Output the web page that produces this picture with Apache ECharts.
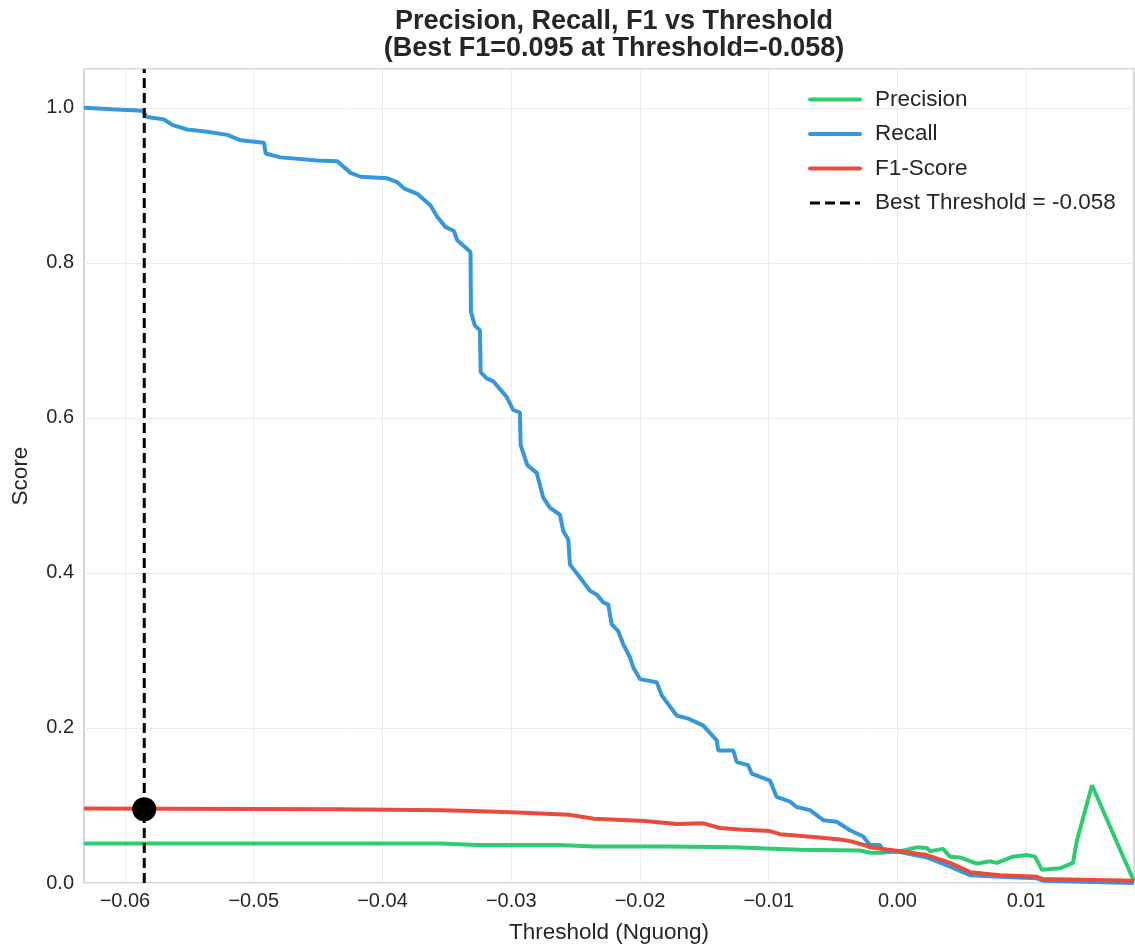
<!DOCTYPE html>
<html>
<head>
<meta charset="utf-8">
<title>Precision, Recall, F1 vs Threshold</title>
<script src="https://cdn.jsdelivr.net/npm/echarts@6/dist/echarts.min.js"></script>
<style>
  html, body { margin: 0; padding: 0; background: #fff; }
  #chart { width: 1135px; height: 946px; }
</style>
</head>
<body>
<div id="chart"></div>
<script>
// 数据：近似值
var recallX = [-0.06318, -0.06101, -0.05866, -0.05827, -0.05697, -0.05633, -0.05516, -0.05361, -0.05205, -0.05101,
  -0.04920, -0.04907, -0.04791, -0.04506, -0.04351, -0.04247, -0.04169, -0.03963, -0.03885, -0.03833,
  -0.03730, -0.03626, -0.03574, -0.03509, -0.03445, -0.03419, -0.03316, -0.03313, -0.03282, -0.03243,
  -0.03237, -0.03191, -0.03139, -0.03035, -0.02984, -0.02932, -0.02927, -0.02875, -0.02802, -0.02751,
  -0.02699, -0.02621, -0.02596, -0.02557, -0.02544, -0.02466, -0.02388, -0.02336, -0.02285, -0.02246,
  -0.02220, -0.02169, -0.02130, -0.02078, -0.02052, -0.02000, -0.01870, -0.01831, -0.01715, -0.01625,
  -0.01508, -0.01404, -0.01392, -0.01275, -0.01249, -0.01159, -0.01132, -0.00990, -0.00938, -0.00835,
  -0.00783, -0.00680, -0.00576, -0.00472, -0.00369, -0.00266, -0.00214, -0.00136, -0.00110, 0.00019,
  0.00229, 0.00408, 0.00563, 0.00796, 0.01084, 0.01130, 0.01837];
var recallY = [1.000, 0.998, 0.996, 0.988, 0.985, 0.978, 0.972, 0.969, 0.965, 0.958,
  0.955, 0.941, 0.936, 0.932, 0.931, 0.916, 0.911, 0.909, 0.904, 0.896,
  0.889, 0.874, 0.859, 0.846, 0.841, 0.829, 0.814, 0.737, 0.719, 0.713,
  0.659, 0.651, 0.647, 0.627, 0.610, 0.607, 0.565, 0.539, 0.529, 0.497,
  0.484, 0.475, 0.454, 0.443, 0.411, 0.394, 0.377, 0.372, 0.362, 0.359,
  0.334, 0.325, 0.308, 0.291, 0.278, 0.263, 0.259, 0.242, 0.216, 0.212,
  0.203, 0.184, 0.171, 0.171, 0.156, 0.152, 0.141, 0.132, 0.111, 0.105,
  0.098, 0.094, 0.081, 0.079, 0.068, 0.060, 0.049, 0.049, 0.042, 0.040,
  0.033, 0.021, 0.010, 0.008, 0.006, 0.003, 0.000];

var precX = [-0.06318, -0.03546, -0.03266, -0.02637, -0.02357, -0.01793, -0.01275, -0.00757, -0.00291, -0.00214,
  -0.00136, 0.00019, 0.00151, 0.00229, 0.00252, 0.00353, 0.00408, 0.00485, 0.00617, 0.00718,
  0.00773, 0.00897, 0.01006, 0.01068, 0.01122, 0.01262, 0.01363, 0.01394, 0.01511, 0.01837];
var precY = [0.051, 0.051, 0.049, 0.049, 0.047, 0.047, 0.046, 0.043, 0.042, 0.039,
  0.039, 0.041, 0.046, 0.045, 0.041, 0.044, 0.034, 0.033, 0.025, 0.028,
  0.026, 0.034, 0.036, 0.034, 0.017, 0.019, 0.026, 0.055, 0.126, 0.002];

var f1X = [-0.06318, -0.04338, -0.03546, -0.03305, -0.02948, -0.02551, -0.02357, -0.01961, -0.01715, -0.01508,
  -0.01379, -0.01223, -0.00990, -0.00913, -0.00628, -0.00447, -0.00369, -0.00239, -0.00214, 0.00019,
  0.00229, 0.00408, 0.00563, 0.00796, 0.01084, 0.01130, 0.01837];
var f1Y = [0.096, 0.095, 0.094, 0.093, 0.091, 0.088, 0.083, 0.080, 0.076, 0.077,
  0.071, 0.069, 0.067, 0.063, 0.059, 0.056, 0.054, 0.048, 0.046, 0.041,
  0.036, 0.026, 0.014, 0.010, 0.008, 0.005, 0.003];

var bestThreshold = -0.0585;
var bestF1 = 0.095;
var xTicks = [-0.06, -0.05, -0.04, -0.03, -0.02, -0.01, 0.00, 0.01];

function pairs(xs, ys) {
	var out = [];
	for (var i = 0; i < xs.length; i++) {
		out.push([xs[i], ys[i]]);
	}
	return out;
}

function fmt(v, d) {
	var s = Number(v).toFixed(d);
	if (Number(v) < 0) s = '\u2212' + s.replace('-', '');
	return s;
}

var myChart = echarts.init(document.getElementById('chart'), null, { renderer: 'canvas' });
var FONT = '"Liberation Sans", Arial, sans-serif';

var option = {
	animation: false,
	backgroundColor: '#ffffff',
	textStyle: { fontFamily: FONT },
	title: {
		text: 'Precision, Recall, F1 vs Threshold\n(Best F1=0.095 at Threshold=-0.058)',
		left: 609,
		textAlign: 'center',
		top: 3,
		textStyle: {
			fontFamily: FONT,
			fontSize: 27,
			fontWeight: 'bold',
			color: '#262626',
			lineHeight: 27
		}
	},
	legend: {
		left: 808,
		top: 88,
		padding: 0,
		orient: 'vertical',
		itemWidth: 50,
		itemHeight: 22,
		itemGap: 11.5,
		itemStyle: { opacity: 0 },
		lineStyle: { width: 4, cap: 'round' },
		data: [
			{ name: 'Precision' },
			{ name: 'Recall' },
			{ name: 'F1-Score' },
			{ name: 'Best Threshold = -0.058', lineStyle: { width: 3, cap: 'butt' } }
		],
		textStyle: {
			fontFamily: FONT,
			fontSize: 22.5,
			color: '#262626',
			padding: [0, 0, 0, 10]
		}
	},
	grid: {
		left: 84,
		right: 1,
		top: 69,
		bottom: 63,
		outerBoundsMode: 'none',
		show: true,
		borderColor: '#cccccc',
		borderWidth: 1.5
	},
	xAxis: {
		type: 'value',
		min: -0.06318,
		max: 0.01837,
		name: 'Threshold (Nguong)',
		nameLocation: 'middle',
		nameGap: 38,
		nameTextStyle: { fontFamily: FONT, fontSize: 22.5, color: '#262626' },
		axisLine: { show: false },
		axisTick: { show: false },
		splitLine: { show: false },
		axisLabel: {
			customValues: xTicks,
			margin: 8,
			fontFamily: FONT,
			fontSize: 20,
			color: '#262626',
			formatter: function (v) { return fmt(v, 2); }
		}
	},
	yAxis: {
		type: 'value',
		min: 0,
		max: 1.05,
		interval: 0.2,
		name: 'Score',
		nameLocation: 'middle',
		nameGap: 52,
		nameTextStyle: { fontFamily: FONT, fontSize: 22.5, color: '#262626' },
		axisLine: { show: false },
		axisTick: { show: false },
		splitLine: { show: true, lineStyle: { color: '#ebebeb', width: 1 } },
		axisLabel: {
			showMaxLabel: false,
			margin: 10,
			fontFamily: FONT,
			fontSize: 20,
			color: '#262626',
			formatter: function (v) { return fmt(v, 1); }
		}
	},
	series: [
		{
			// 竖向网格线
			name: 'gridlines',
			type: 'line',
			data: [],
			silent: true,
			z: 1,
			markLine: {
				silent: true,
				symbol: 'none',
				z: 1,
				label: { show: false },
				lineStyle: { color: '#ebebeb', width: 1, type: 'solid' },
				data: xTicks.map(function (v) { return { xAxis: v }; })
			}
		},
		{
			name: 'Precision',
			type: 'line',
			data: pairs(precX, precY),
			showSymbol: false,
			symbol: 'none',
			z: 3,
			lineStyle: { color: '#2ecc71', width: 4 },
			itemStyle: { color: '#2ecc71' }
		},
		{
			name: 'Recall',
			type: 'line',
			data: pairs(recallX, recallY),
			showSymbol: false,
			symbol: 'none',
			z: 3,
			lineStyle: { color: '#3498db', width: 4 },
			itemStyle: { color: '#3498db' }
		},
		{
			name: 'F1-Score',
			type: 'line',
			data: pairs(f1X, f1Y),
			showSymbol: false,
			symbol: 'none',
			z: 3,
			lineStyle: { color: '#e74c3c', width: 4 },
			itemStyle: { color: '#e74c3c' }
		},
		{
			name: 'Best Threshold = -0.058',
			type: 'line',
			data: [[bestThreshold, 0], [bestThreshold, 1.05]],
			showSymbol: false,
			symbol: 'none',
			z: 4,
			lineStyle: { color: '#000000', width: 3, type: [10, 5] },
			itemStyle: { color: '#000000' }
		},
		{
			name: 'best',
			type: 'scatter',
			data: [[bestThreshold, bestF1]],
			symbolSize: 24,
			z: 5,
			itemStyle: { color: '#000000', opacity: 1 }
		}
	]
};
myChart.setOption(option);
</script>
</body>
</html>
